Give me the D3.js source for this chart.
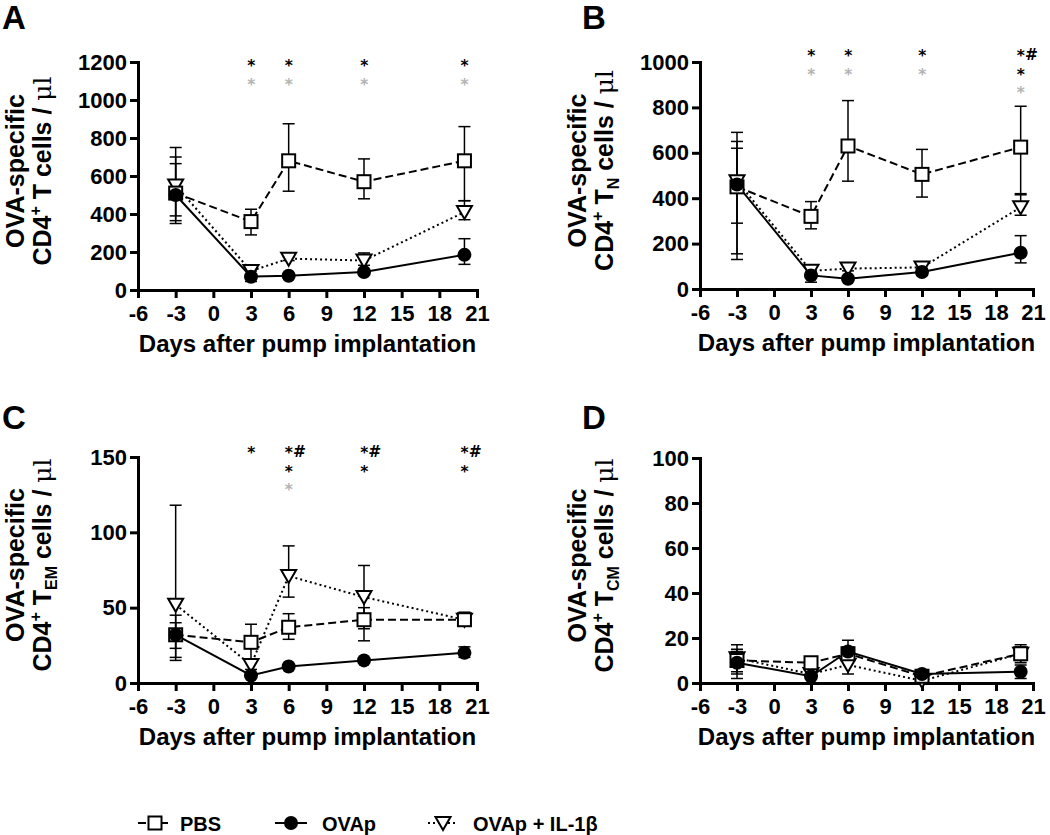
<!DOCTYPE html>
<html><head><meta charset="utf-8">
<script src="https://cdn.jsdelivr.net/npm/d3@7"></script>
<style>
html,body{margin:0;padding:0;background:#fff;}
text{font-family:"Liberation Sans",Arial,Helvetica,sans-serif;font-weight:bold;}
</style></head>
<body><svg id="c" width="1050" height="835"></svg>
<script>
// ---------- data ----------
const days = [-3, 3, 6, 12, 20];
const xTicks = [-6, -3, 0, 3, 6, 9, 12, 15, 18, 21];
const seriesNames = ["PBS", "OVAp", "OVAp + IL-1β"];

// Panel A: OVA-specific CD4+ T cells / µl
const aPBS = [510, 360, 680, 570, 680];
const aPBSHi = [665, 425, 875, 690, 860];
const aPBSLo = [350, 290, 520, 480, 470];
const aOVA = [500, 70, 75, 95, 185];
const aOVAHi = [700, 100, 85, 105, 270];
const aOVALo = [390, 45, 65, 85, 135];
const aTRI = [550, 100, 165, 155, 410];
const aTRIHi = [750, 115, 175, 195, 470];
const aTRILo = [365, 85, 155, 130, 370];
const aTicks = [0, 200, 400, 600, 800, 1000, 1200];

// Panel B: CD4+ TN
const bPBS = [450, 320, 630, 505, 625];
const bPBSHi = [620, 385, 830, 615, 805];
const bPBSLo = [290, 265, 475, 405, 415];
const bOVA = [460, 60, 45, 75, 160];
const bOVAHi = [650, 75, 55, 90, 235];
const bOVALo = [155, 30, 35, 60, 115];
const bTRI = [475, 80, 90, 95, 360];
const bTRIHi = [690, 90, 100, 110, 420];
const bTRILo = [130, 70, 80, 80, 325];
const bTicks = [0, 200, 400, 600, 800, 1000];

// Panel C: CD4+ TEM
const cPBS = [32, 27, 37, 42, 42];
const cPBSHi = [45, 39, 46, 50, 47];
const cPBSLo = [17, 16, 29, 28, 40];
const cOVA = [32, 5, 11, 15, 20];
const cOVAHi = [40, 6, 12, 16, 24];
const cOVALo = [15, 4, 10, 14, 17];
const cTRI = [52, 12, 71, 57, 42];
const cTRIHi = [118, 16, 91, 78, 46];
const cTRILo = [23, 9, 57, 36, 40];
const cTicks = [0, 50, 100, 150];

// Panel D: CD4+ TCM
const dPBS = [10, 9, 13, 3, 13];
const dPBSHi = [17, 10, 16, 4, 17];
const dPBSLo = [4, 7, 10, 2, 9];
const dOVA = [9, 3, 14, 4, 5];
const dOVAHi = [15, 4, 19, 5, 8];
const dOVALo = [2, 2, 11, 3, 2];
const dTRI = [11, 4, 8, 1, 13];
const dTRIHi = [14, 5, 11, 2, 16];
const dTRILo = [5, 3, 4, 0.5, 10];
const dTicks = [0, 20, 40, 60, 80, 100];

// significance marks: [day, row, group, label]  group "b" = black, "g" = grey
const aSig = [[3,0,"b","*"],[6,0,"b","*"],[12,0,"b","*"],[20,0,"b","*"],
              [3,1,"g","*"],[6,1,"g","*"],[12,1,"g","*"],[20,1,"g","*"]];
const bSig = [[3,0,"b","*"],[6,0,"b","*"],[12,0,"b","*"],[20,0,"b","*#"],
              [3,1,"g","*"],[6,1,"g","*"],[12,1,"g","*"],[20,1,"b","*"],[20,2,"g","*"]];
const cSig = [[3,0,"b","*"],[6,0,"b","*#"],[12,0,"b","*#"],[20,0,"b","*#"],
              [6,1,"b","*"],[12,1,"b","*"],[20,1,"b","*"],[6,2,"g","*"]];
const dSig = [];

// ---------- drawing ----------
const svg = d3.select("#c");
const GREY = "#b3b3b3";

const panels = [
  {letter:"A", sub:"", left:138, right:477, top:62, bottom:290, ymax:1200, ticks:aTicks,
   s:[[aPBS,aPBSLo,aPBSHi],[aOVA,aOVALo,aOVAHi],[aTRI,aTRILo,aTRIHi]], sig:aSig, sigOff:0, lx:2, ly:29, tx:24},
  {letter:"B", sub:"N", left:700, right:1033, top:62, bottom:289, ymax:1000, ticks:bTicks,
   s:[[bPBS,bPBSLo,bPBSHi],[bOVA,bOVALo,bOVAHi],[bTRI,bTRILo,bTRIHi]], sig:bSig, sigOff:-10, lx:582, ly:29, tx:586},
  {letter:"C", sub:"EM", left:138, right:477, top:457, bottom:683, ymax:150, ticks:cTicks,
   s:[[cPBS,cPBSLo,cPBSHi],[cOVA,cOVALo,cOVAHi],[cTRI,cTRILo,cTRIHi]], sig:cSig, sigOff:-8, lx:2, ly:429, tx:24},
  {letter:"D", sub:"CM", left:700, right:1033, top:458, bottom:683, ymax:100, ticks:dTicks,
   s:[[dPBS,dPBSLo,dPBSHi],[dOVA,dOVALo,dOVAHi],[dTRI,dTRILo,dTRIHi]], sig:dSig, sigOff:0, lx:582, ly:429, tx:586}
];

const styles = [
  {dash:"8,4", marker:"square"},
  {dash:null, marker:"circle"},
  {dash:"2,3", marker:"tri"}
];

function drawMarker(g, type, cx, cy) {
  if (type === "square") {
    g.append("rect").attr("x", cx-6.5).attr("y", cy-6.5).attr("width", 13).attr("height", 13)
      .attr("fill", "#fff").attr("stroke", "#000").attr("stroke-width", 2);
  } else if (type === "circle") {
    g.append("circle").attr("cx", cx).attr("cy", cy).attr("r", 7).attr("fill", "#000");
  } else {
    g.append("path").attr("d", `M${cx-7.5},${cy-6}L${cx+7.5},${cy-6}L${cx},${cy+7}Z`)
      .attr("fill", "#fff").attr("stroke", "#000").attr("stroke-width", 2).attr("stroke-linejoin","miter");
  }
}

const fmt = d => String(d);

panels.forEach(p => {
  const g = svg.append("g");
  const x = d3.scaleLinear().domain([-6, 21]).range([p.left, p.right]);
  const y = d3.scaleLinear().domain([0, p.ymax]).range([p.bottom, p.top]);

  // axes
  const ax = g.append("g").attr("transform", `translate(0,${p.bottom})`)
    .call(d3.axisBottom(x).tickValues(xTicks).tickFormat(fmt).tickSize(8).tickPadding(7).tickSizeOuter(0));
  const ay = g.append("g").attr("transform", `translate(${p.left},0)`)
    .call(d3.axisLeft(y).tickValues(p.ticks).tickFormat(fmt).tickSize(8).tickPadding(3).tickSizeOuter(0));
  [ax, ay].forEach(a => {
    a.select(".domain").attr("stroke-width", 3).attr("stroke-linecap", "square");
    a.selectAll(".tick line").attr("stroke-width", 3);
    a.selectAll(".tick text").style("font-size", "22px").style("font-weight", "bold")
      .attr("fill", "#000");
  });

  // axis titles
  g.append("text").attr("x", (p.left + p.right)/2).attr("y", p.bottom + 62)
    .attr("text-anchor", "middle").style("font-size", "24px").text("Days after pump implantation");

  const cy = (p.top + p.bottom)/2 - 5;
  g.append("text").attr("transform", `translate(${p.tx},${cy}) rotate(-90)`)
    .attr("text-anchor", "middle").style("font-size", "25px").text("OVA-specific");
  const t2 = g.append("text").attr("transform", `translate(${p.tx+27},${cy}) rotate(-90)`)
    .attr("text-anchor", "middle").style("font-size", "25px");
  t2.append("tspan").text("CD4");
  t2.append("tspan").attr("dy", -10).style("font-size", "16px").text("+");
  t2.append("tspan").attr("dy", 10).text(" T");
  if (p.sub) {
    t2.append("tspan").attr("dy", 6).style("font-size", "16px").text(p.sub);
    t2.append("tspan").attr("dy", -6).text(" cells / ");
  } else {
    t2.append("tspan").text(" cells / ");
  }
  t2.append("tspan").style("font-weight", "normal").style("font-family", "'DejaVu Serif',serif").text("μl");

  // panel letter
  g.append("text").attr("x", p.lx).attr("y", p.ly).style("font-size", "33px").text(p.letter);

  // lines
  const order = [2, 0, 1];
  order.forEach(i => {
    const [m] = p.s[i];
    const line = d3.line().x((d, k) => x(days[k])).y(d => y(d));
    const path = g.append("path").attr("d", line(m)).attr("fill", "none")
      .attr("stroke", "#000").attr("stroke-width", 2);
    if (styles[i].dash) path.attr("stroke-dasharray", styles[i].dash);
  });
  // error bars
  order.forEach(i => {
    const [m, lo, hi] = p.s[i];
    m.forEach((v, k) => {
      const xx = x(days[k]);
      g.append("line").attr("x1", xx).attr("x2", xx).attr("y1", y(lo[k])).attr("y2", y(hi[k]))
        .attr("stroke", "#000").attr("stroke-width", 1.5);
      [lo[k], hi[k]].forEach(e => {
        g.append("line").attr("x1", xx-6).attr("x2", xx+6).attr("y1", y(e)).attr("y2", y(e))
          .attr("stroke", "#000").attr("stroke-width", 1.5);
      });
    });
  });
  // markers
  order.forEach(i => {
    const [m] = p.s[i];
    m.forEach((v, k) => drawMarker(g, styles[i].marker, x(days[k]), y(v)));
  });

  // significance
  const fs = 15.5;
  p.sig.forEach(([d, row, grp, lab]) => {
    const rc = p.top + p.sigOff + row*18.5;
    const col = grp === "g" ? GREY : "#000";
    const t = g.append("text").attr("x", x(d) - fs*0.25).attr("y", rc + 9)
      .style("font-family", "'DejaVu Sans',sans-serif").style("font-size", fs + "px")
      .attr("fill", col);
    t.append("tspan").text("*");
    if (lab.includes("#")) t.append("tspan").attr("dy", -1).text("#");
  });
});

// legend
const ly = 823;
const leg = svg.append("g");
const legItems = [
  {x1:138, x2:168, mx:155, tx:180},
  {x1:275, x2:307, mx:291, tx:322},
  {x1:428, x2:458, mx:443, tx:473}
];
legItems.forEach((it, i) => {
  const l = leg.append("line").attr("x1", it.x1).attr("x2", it.x2).attr("y1", ly).attr("y2", ly)
    .attr("stroke", "#000").attr("stroke-width", 2);
  if (styles[i].dash) l.attr("stroke-dasharray", styles[i].dash);
  drawMarker(leg, styles[i].marker, it.mx, ly);
  leg.append("text").attr("x", it.tx).attr("y", ly + 8).style("font-size", "20px").text(seriesNames[i]);
});
</script></body></html>
